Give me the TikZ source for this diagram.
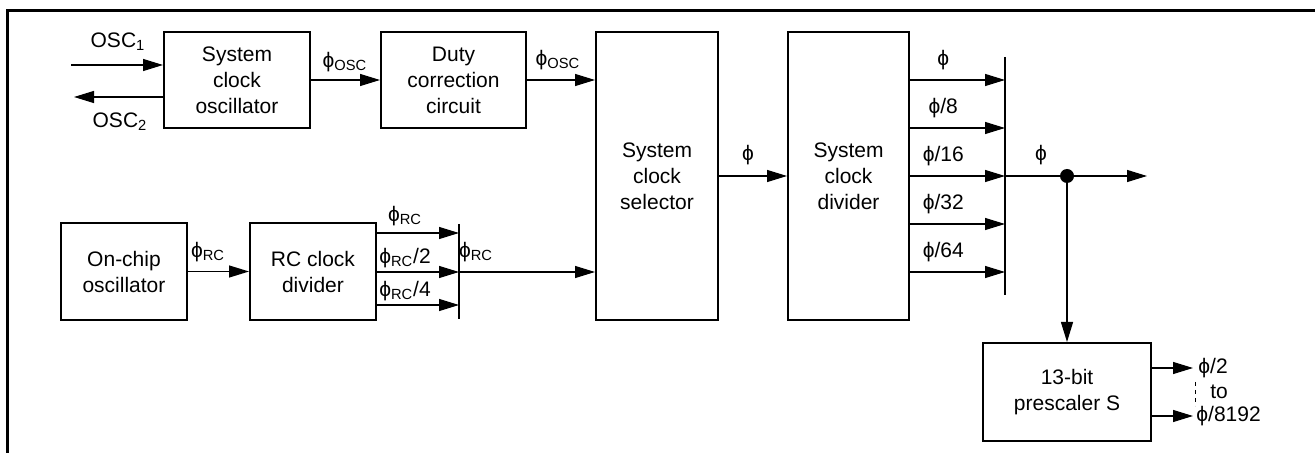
\documentclass[tikz,border=0pt]{standalone}
\usepackage{fontspec}
\setmainfont{Liberation Sans}
\usetikzlibrary{arrows.meta}

\newcommand{\ph}{{\char"03D5}}
\newcommand{\lo}[1]{\textsubscript{#1}}

\begin{document}
\begin{tikzpicture}[x=0.5pt,y=-0.5pt,font=\fontsize{10.5}{13}\selectfont,
	blk/.style={draw, line width=1pt, align=center, inner sep=0pt},
	sig/.style={line width=0.6pt, -{Triangle[length=10pt,width=6pt]}},
	bar/.style={line width=1.1pt},
	lbl/.style={inner sep=0pt}]
	\useasboundingbox (0,0) rectangle (1315,453);
	\draw[line width=1.5pt] (7,453) -- (7,11) -- (1315,11);

	% bloki
	\node[blk, minimum width=73pt, minimum height=48pt] (osc) at (237,80) {System\\clock\\oscillator};
	\node[blk, minimum width=72.5pt, minimum height=48pt] (duty) at (453.5,80) {Duty\\correction\\circuit};
	\node[blk, minimum width=61pt, minimum height=144pt] (sel) at (657,176) {System\\clock\\selector};
	\node[blk, minimum width=60.5pt, minimum height=144pt] (div) at (848.5,176) {System\\clock\\divider};
	\node[blk, minimum width=63pt, minimum height=48.5pt] (onchip) at (124,271.5) {On-chip\\oscillator};
	\node[blk, minimum width=63pt, minimum height=48.5pt] (rcdiv) at (313,271.5) {RC clock\\divider};
	\node[blk, minimum width=84pt, minimum height=49pt] (pre) at (1067,392) {13-bit\\prescaler S};

	% oscylator systemowy
	\coordinate (oscin) at (71,65);
	\coordinate (oscout) at (74,97);
	\draw[sig] (oscin) -- (oscin -| osc.west);
	\draw[sig] (oscout -| osc.west) -- (oscout);
	\node[lbl] (osc1) at (118,42) {OSC\lo{1}};
	\node[lbl] (osc2) at (120,122) {OSC\lo{2}};
	\draw[sig] (osc.east) -- (duty.west);
	\node[lbl] (phosc1) at (345,62) {\ph\lo{OSC}};
	\draw[sig] (duty.east) -- (duty.east -| sel.west);
	\node[lbl] (phosc2) at (558,60) {\ph\lo{OSC}};

	% galaz RC
	\draw[sig] (onchip.east) -- (rcdiv.west);
	\node[lbl] (phrc) at (208,252) {\ph\lo{RC}};
	\coordinate (rctop) at (459,224);
	\coordinate (rcbot) at (459,319);
	\draw[bar] (rctop) -- (rcbot);
	\foreach \y in {233,272,305} {
		\draw[sig] (rcdiv.east |- 0,\y) -- (rctop |- 0,\y);
	}
	\node[lbl] (rc1) at (405,216) {\ph\lo{RC}};
	\node[lbl] (rc2) at (405,258) {\ph\lo{RC}/2};
	\node[lbl] (rc4) at (405,291) {\ph\lo{RC}/4};
	\draw[sig] (rctop |- 0,272) -- (sel.west |- 0,272);
	\node[lbl] (phrcsel) at (476,252) {\ph\lo{RC}};

	% dzielnik systemowy
	\draw[sig] (sel.east) -- (div.west);
	\node[lbl] (phsel) at (748,155) {\ph};
	\coordinate (dtop) at (1005,57);
	\coordinate (dbot) at (1005,295);
	\draw[bar] (dtop) -- (dbot);
	\foreach \t [count=\i] in {{},/8,/16,/32,/64} {
		\draw[sig] (div.east |- 0,{32+48*\i}) -- (dtop |- 0,{32+48*\i})
			node[lbl, pos=0.35, above=5pt] (d\i) {\ph\t};
	}

	% wyjscie i preskaler
	\node[circle, fill, inner sep=0pt, minimum size=7pt] (dot) at (1067,176) {};
	\coordinate (out) at (1147,176);
	\draw[line width=0.6pt] (dtop |- dot) -- (dot);
	\draw[sig] (dot) -- (out);
	\node[lbl] (phout) at (1041,155) {\ph};
	\draw[sig] (dot) -- (pre);
	\coordinate (p2) at (1193,368);
	\coordinate (p8k) at (1193,416);
	\draw[sig] (pre.east |- p2) -- (p2);
	\draw[sig] (pre.east |- p8k) -- (p8k);
	\draw[line width=0.5pt, dash pattern=on 2pt off 2pt] (1195,382) -- (1195,406);
	\node[lbl, anchor=west] (ph2) at (1198,368) {\ph/2};
	\node[lbl] (to) at (1219,392) {to};
	\node[lbl, anchor=west] (ph8k) at (1196,416) {\ph/8192};
\end{tikzpicture}
\end{document}
